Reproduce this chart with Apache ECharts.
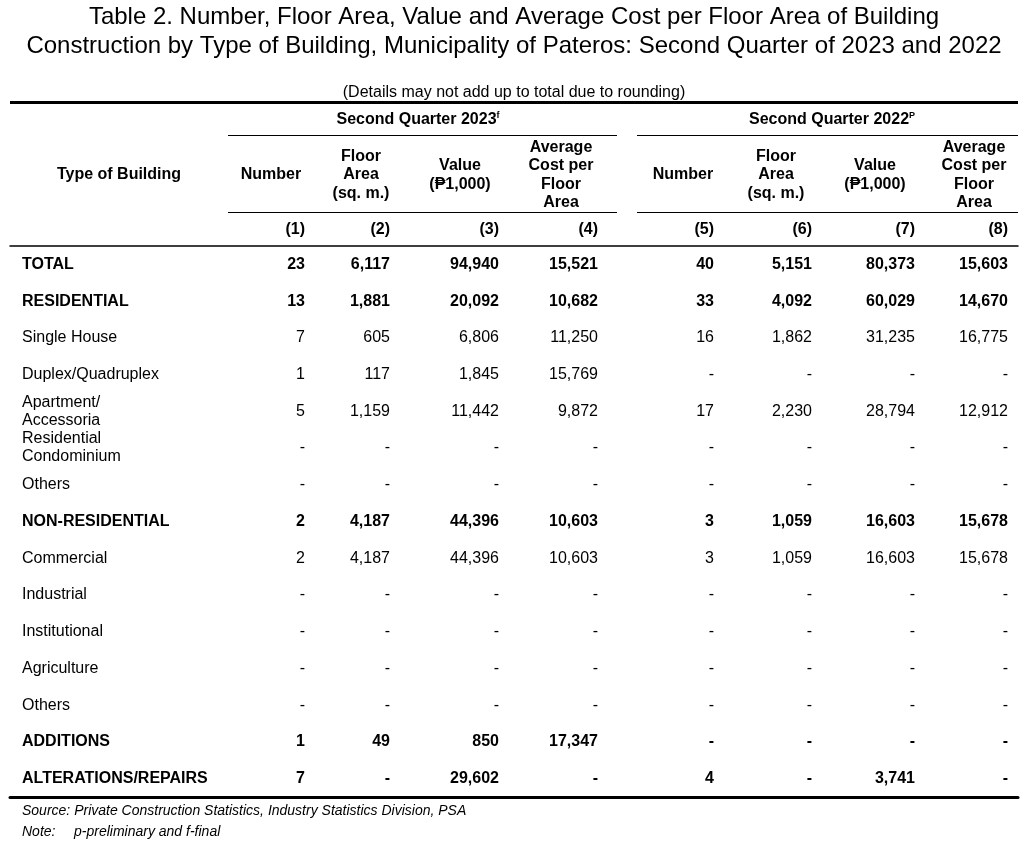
<!DOCTYPE html>
<html><head><meta charset="utf-8">
<script src="https://cdn.jsdelivr.net/npm/echarts@6/dist/echarts.min.js"></script>
<style>html,body{margin:0;padding:0;background:#fff}#c{width:1028px;height:860px}</style>
</head><body><div id="c"></div>
<script>
// ---------- DATA ----------
const rowLabels = ['TOTAL','RESIDENTIAL','Single House','Duplex/Quadruplex','Apartment/\nAccessoria','Residential\nCondominium','Others','NON-RESIDENTIAL','Commercial','Industrial','Institutional','Agriculture','Others','ADDITIONS','ALTERATIONS/REPAIRS'];
const boldRows = [0, 1, 7, 13, 14];
const num2023   = [23, 13, 7, 1, 5, null, null, 2, 2, null, null, null, null, 1, 7];
const area2023  = [6117, 1881, 605, 117, 1159, null, null, 4187, 4187, null, null, null, null, 49, null];
const value2023 = [94940, 20092, 6806, 1845, 11442, null, null, 44396, 44396, null, null, null, null, 850, 29602];
const avg2023   = [15521, 10682, 11250, 15769, 9872, null, null, 10603, 10603, null, null, null, null, 17347, null];
const num2022   = [40, 33, 16, null, 17, null, null, 3, 3, null, null, null, null, null, 4];
const area2022  = [5151, 4092, 1862, null, 2230, null, null, 1059, 1059, null, null, null, null, null, null];
const value2022 = [80373, 60029, 31235, null, 28794, null, null, 16603, 16603, null, null, null, null, null, 3741];
const avg2022   = [15603, 14670, 16775, null, 12912, null, null, 15678, 15678, null, null, null, null, null, null];
const colNumbers = ['(1)','(2)','(3)','(4)','(5)','(6)','(7)','(8)'];
const colHeaders = ['Number','Floor\nArea\n(sq. m.)','Value\n(\u20B11,000)','Average\nCost per\nFloor\nArea'];
const groupHeaders = [['Second Quarter 2023','f'], ['Second Quarter 2022','P']];
const titleText = 'Table 2. Number, Floor Area, Value and Average Cost per Floor Area of Building\nConstruction by Type of Building, Municipality of Pateros: Second Quarter of 2023 and 2022';
const noteText = '(Details may not add up to total due to rounding)';
const sourceText = 'Source: Private Construction Statistics, Industry Statistics Division, PSA';
const noteLabel = 'Note:';
const noteBody = 'p-preliminary and f-final';

// ---------- LAYOUT ----------
const columns = [num2023, area2023, value2023, avg2023, num2022, area2022, value2022, avg2022];
const COL_RIGHT = [305, 390, 499, 598, 714, 812, 915, 1008];
const HEAD_CENTER = [271, 361, 460, 561, 683, 776, 875, 974];
const GROUP_SPAN = [[228, 617], [637, 1018]];
const FONT = 'Liberation Sans, Arial, Helvetica, sans-serif';

const fmt = v => v == null ? '-' : v.toLocaleString('en-US');

const seriesData = [];
columns.forEach((col, j) => {
  col.forEach((v, i) => {
    const bold = boldRows.indexOf(i) >= 0;
    seriesData.push({
      value: [COL_RIGHT[j], i],
      label: { formatter: fmt(v), fontWeight: bold ? 'bold' : 'normal' }
    });
  });
});

const graphics = [];
function txt(x, y, text, font, align, vAlign, extra) {
  const st = Object.assign({ text: text, x: x, y: y, font: font, fill: '#000',
    align: align, textAlign: align, verticalAlign: vAlign, textVerticalAlign: vAlign }, extra || {});
  graphics.push({ type: 'text', silent: true, style: st });
}
function line(x1, y1, x2, y2, w) {
  graphics.push({ type: 'line', silent: true, shape: { x1: x1, y1: y1, x2: x2, y2: y2 },
    style: { stroke: '#000', lineWidth: w } });
}
// title
txt(514, 3, titleText, '24px ' + FONT, 'center', 'top', { lineHeight: 29 });
txt(514, 93, noteText, '16px ' + FONT, 'center', 'middle');
line(10, 102.5, 1018, 102.5, 3);
// group headers
groupHeaders.forEach((g, k) => {
  const cx = (k === 0) ? 418 : 832;
  txt(cx, 120, '{m|' + g[0] + '}{s|' + g[1] + '}', 'bold 16px ' + FONT, 'center', 'middle', {
    rich: { m: { font: 'bold 16px ' + FONT, lineHeight: 18 }, s: { font: 'bold 9px ' + FONT, verticalAlign: 'top', lineHeight: 18 } }
  });
  line(GROUP_SPAN[k][0], 135.5, GROUP_SPAN[k][1], 135.5, 1);
  line(GROUP_SPAN[k][0], 212.5, GROUP_SPAN[k][1], 212.5, 1);
});
txt(119, 175, 'Type of Building', 'bold 16px ' + FONT, 'center', 'middle');
HEAD_CENTER.forEach((cx, j) => {
  txt(cx, 175, colHeaders[j % 4], 'bold 16px ' + FONT, 'center', 'middle', { lineHeight: 18.6 });
});
COL_RIGHT.forEach((rx, j) => {
  txt(rx, 230, colNumbers[j], 'bold 16px ' + FONT, 'right', 'middle');
});
// footer
txt(22, 811, sourceText, 'italic 14px ' + FONT, 'left', 'middle');
txt(22, 832, noteLabel, 'italic 14px ' + FONT, 'left', 'middle');
txt(74, 832, noteBody, 'italic 14px ' + FONT, 'left', 'middle');

const chart = echarts.init(document.getElementById('c'), null, { renderer: 'canvas' });
chart.setOption({
  animation: false,
  backgroundColor: '#fff',
  textStyle: { fontFamily: FONT },
  grid: { left: 10, right: 10, top: 246, height: 551, containLabel: false },
  xAxis: [
    { type: 'value', min: 10, max: 1018, position: 'bottom',
      axisLine: { show: true, lineStyle: { color: '#000', width: 3 } },
      axisTick: { show: false }, axisLabel: { show: false }, splitLine: { show: false } },
    { type: 'value', min: 10, max: 1018, position: 'top',
      axisLine: { show: true, lineStyle: { color: '#000', width: 1.5 } },
      axisTick: { show: false }, axisLabel: { show: false }, splitLine: { show: false } }
  ],
  yAxis: {
    type: 'category', data: rowLabels, inverse: true,
    axisLine: { show: false }, axisTick: { show: false }, splitLine: { show: false },
    axisLabel: {
      inside: true, margin: 12, color: '#000', fontSize: 16, fontFamily: FONT, lineHeight: 18,
      formatter: (v, idx) => boldRows.indexOf(idx) >= 0 ? '{b|' + v + '}' : v,
      rich: { b: { fontWeight: 'bold', fontSize: 16, fontFamily: FONT, color: '#000' } }
    }
  },
  series: [{
    type: 'scatter', symbolSize: 0, silent: true, data: seriesData,
    itemStyle: { opacity: 1 },
    label: { show: true, position: 'left', distance: 0, color: '#000', fontSize: 16, fontFamily: FONT }
  }],
  graphic: graphics
});
</script>
</body></html>
